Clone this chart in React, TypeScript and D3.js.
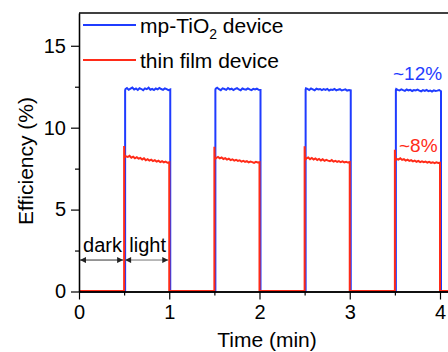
import { useEffect, useRef } from 'react'
import * as d3 from 'd3'

// Light periods start at these times (min) and last half a minute each.
const LIGHT_ON = [0.5, 1.5, 2.5, 3.5]
const LIGHT_LEN = 0.5

// Sample offsets (min) inside every light period.
const OFFSETS = [0, 0.004, 0.02, 0.04, 0.06, 0.08, 0.1, 0.12, 0.14, 0.16, 0.18, 0.2, 0.22, 0.24, 0.26, 0.28, 0.3, 0.32, 0.34, 0.36, 0.38, 0.4, 0.42, 0.44, 0.46, 0.48, 0.5]

// mp-TiO2 device efficiency (%) per light period
const BLUE_P1 = [12.28, 12.36, 12.42, 12.31, 12.38, 12.45, 12.33, 12.39, 12.3, 12.41, 12.36, 12.29, 12.4, 12.35, 12.44, 12.32, 12.37, 12.3, 12.39, 12.34, 12.43, 12.36, 12.31, 12.4, 12.35, 12.29, 12.33]
const BLUE_P2 = [12.3, 12.38, 12.44, 12.35, 12.29, 12.4, 12.36, 12.31, 12.42, 12.34, 12.38, 12.3, 12.37, 12.41, 12.33, 12.28, 12.39, 12.35, 12.32, 12.4, 12.34, 12.29, 12.37, 12.33, 12.38, 12.31, 12.3]
const BLUE_P3 = [12.32, 12.4, 12.37, 12.3, 12.39, 12.34, 12.28, 12.38, 12.33, 12.36, 12.29, 12.35, 12.31, 12.37, 12.27, 12.33, 12.3, 12.36, 12.28, 12.32, 12.35, 12.27, 12.31, 12.34, 12.26, 12.3, 12.28]
const BLUE_P4 = [12.3, 12.36, 12.31, 12.27, 12.34, 12.29, 12.25, 12.33, 12.28, 12.31, 12.24, 12.3, 12.27, 12.32, 12.26, 12.22, 12.29, 12.25, 12.3, 12.23, 12.27, 12.21, 12.28, 12.24, 12.26, 12.3, 12.22]

// thin film device efficiency (%) per light period
const RED_P1 = [8.85, 8.15, 8.22, 8.18, 8.25, 8.14, 8.2, 8.1, 8.17, 8.08, 8.12, 8.03, 8.1, 7.98, 8.05, 7.96, 8.02, 7.93, 7.99, 7.9, 7.95, 7.87, 7.92, 7.85, 7.9, 7.83, 7.86]
const RED_P2 = [8.8, 8.05, 8.12, 8.18, 8.1, 8.15, 8.06, 8.11, 8.02, 8.08, 7.99, 8.04, 7.96, 8.01, 7.94, 7.98, 7.9, 7.95, 7.88, 7.93, 7.85, 7.9, 7.87, 7.82, 7.88, 7.84, 7.86]
const RED_P3 = [8.83, 8.0, 8.1, 8.15, 8.05, 8.12, 8.03, 8.09, 8.0, 8.06, 7.97, 8.04, 7.95, 8.01, 7.96, 7.92, 7.99, 7.9, 7.95, 7.88, 7.93, 7.86, 7.91, 7.85, 7.89, 7.84, 7.87]
const RED_P4 = [8.62, 7.98, 8.06, 8.02, 8.1, 8.0, 8.05, 7.96, 8.02, 7.94, 7.99, 7.91, 7.96, 7.89, 7.94, 7.87, 7.92, 7.86, 7.9, 7.84, 7.88, 7.82, 7.86, 7.8, 7.85, 7.81, 7.83]

const X_TICKS = [0, 1, 2, 3, 4]
const X_MINOR = [0.5, 1.5, 2.5, 3.5]
const Y_TICKS = [0, 5, 10, 15]
const Y_MINOR = [2.5, 7.5, 12.5]

const BLUE = '#1f3cff'
const RED = '#ff2b18'
const FONT = '"Liberation Sans", Arial, sans-serif'

const W = 448
const H = 352

type Pt = [number, number]

function buildSeries(periods: number[][]): Pt[] {
  const pts: Pt[] = [[0, 0]]
  LIGHT_ON.forEach((on, p) => {
    pts.push([on, 0])
    OFFSETS.forEach((o, i) => pts.push([on + o, periods[p][i]]))
    pts.push([on + LIGHT_LEN, 0])
  })
  pts.push([4.1, 0])
  return pts
}

export default function App() {
  const svgRef = useRef<SVGSVGElement>(null)

  useEffect(() => {
    if (!svgRef.current) return
    const svg = d3.select(svgRef.current)
    svg.selectAll('*').remove()

    const left = 79
    const top = 13
    const bottom = 291.5

    const x = d3.scaleLinear().domain([0, 4.1]).range([left, left + 4.1 * 90.25])
    const y = d3.scaleLinear().domain([0, 17]).range([bottom, top])

    const defs = svg.append('defs')
    defs
      .append('marker')
      .attr('id', 'arr')
      .attr('viewBox', '0 0 10 10')
      .attr('refX', 10)
      .attr('refY', 5)
      .attr('markerWidth', 8)
      .attr('markerHeight', 6)
      .attr('markerUnits', 'userSpaceOnUse')
      .attr('orient', 'auto-start-reverse')
      .append('path')
      .attr('d', 'M0,0 L10,5 L0,10 Z')
      .attr('fill', '#222')

    // ---- Series ----
    const line = d3
      .line<Pt>()
      .x((d) => x(d[0]))
      .y((d) => y(d[1]))

    const blue = buildSeries([BLUE_P1, BLUE_P2, BLUE_P3, BLUE_P4])
    const red = buildSeries([RED_P1, RED_P2, RED_P3, RED_P4])

    svg
      .append('path')
      .datum(blue)
      .attr('d', line)
      .attr('fill', 'none')
      .attr('stroke', BLUE)
      .attr('stroke-width', 2)
      .attr('transform', 'translate(1,0)')
    svg
      .append('path')
      .datum(red)
      .attr('d', line)
      .attr('fill', 'none')
      .attr('stroke', RED)
      .attr('stroke-width', 2)
      .attr('transform', 'translate(0,-0.5)')

    // ---- Axes ----
    const styleAxis = (g: d3.Selection<SVGGElement, unknown, null, undefined>) => {
      g.select('.domain').attr('stroke', '#000').attr('stroke-width', 1.3)
      g.selectAll('.tick line').attr('stroke', '#000').attr('stroke-width', 1.2)
      g.selectAll('.tick text')
        .attr('font-family', FONT)
        .attr('font-size', '20px')
        .attr('fill', '#000')
    }

    svg
      .append('g')
      .attr('transform', `translate(0,${bottom})`)
      .call(d3.axisBottom(x).tickValues(X_MINOR).tickSize(4).tickSizeOuter(0).tickFormat(() => ''))
      .call(styleAxis)
    svg
      .append('g')
      .attr('transform', `translate(0,${bottom})`)
      .call(
        d3.axisBottom(x).tickValues(X_TICKS).tickSize(8).tickSizeOuter(0).tickPadding(5).tickFormat(d3.format('d')),
      )
      .call(styleAxis)

    svg
      .append('g')
      .attr('transform', `translate(${left},0)`)
      .call(d3.axisLeft(y).tickValues(Y_MINOR).tickSize(4).tickSizeOuter(0).tickFormat(() => ''))
      .call(styleAxis)
    svg
      .append('g')
      .attr('transform', `translate(${left},0)`)
      .call(
        d3.axisLeft(y).tickValues(Y_TICKS).tickSize(8).tickSizeOuter(0).tickPadding(5).tickFormat(d3.format('d')),
      )
      .call(styleAxis)

    // top frame
    svg
      .append('line')
      .attr('x1', left)
      .attr('x2', W)
      .attr('y1', top)
      .attr('y2', top)
      .attr('stroke', '#000')
      .attr('stroke-width', 1.3)

    // ---- Axis labels ----
    svg
      .append('text')
      .attr('x', 267)
      .attr('y', 347)
      .attr('text-anchor', 'middle')
      .attr('font-family', FONT)
      .attr('font-size', '21px')
      .text('Time (min)')

    svg
      .append('text')
      .attr('transform', `translate(33,161) rotate(-90)`)
      .attr('text-anchor', 'middle')
      .attr('font-family', FONT)
      .attr('font-size', '21px')
      .text('Efficiency (%)')

    // ---- Legend ----
    const legend = [
      { color: BLUE, y: 25, main: 'mp-TiO', sub: '2', rest: ' device' },
      { color: RED, y: 60, main: 'thin film device', sub: '', rest: '' },
    ]
    legend.forEach((l) => {
      svg
        .append('line')
        .attr('x1', 83)
        .attr('x2', 136)
        .attr('y1', l.y)
        .attr('y2', l.y)
        .attr('stroke', l.color)
        .attr('stroke-width', 2)
      const t = svg
        .append('text')
        .attr('x', 140)
        .attr('y', l.y + 7.5)
        .attr('font-family', FONT)
        .attr('font-size', '21px')
        .attr('fill', '#000')
      t.append('tspan').text(l.main)
      if (l.sub) {
        t.append('tspan').attr('dy', 6).attr('font-size', '14px').text(l.sub)
        t.append('tspan').attr('dy', -6).text(l.rest)
      }
    })

    // ---- Value annotations ----
    svg
      .append('text')
      .attr('x', 393)
      .attr('y', 80)
      .attr('font-family', FONT)
      .attr('font-size', '19px')
      .attr('fill', BLUE)
      .text('~12%')
    svg
      .append('text')
      .attr('x', 399)
      .attr('y', 152)
      .attr('font-family', FONT)
      .attr('font-size', '19px')
      .attr('fill', RED)
      .text('~8%')

    // ---- dark / light arrows ----
    const arrowY = 1.92
    const spans = [
      { x0: 0, x1: 0.5, label: 'dark', stroke: '#333' },
      { x0: 0.5, x1: 1, label: 'light', stroke: '#777' },
    ]
    spans.forEach((s) => {
      svg
        .append('line')
        .attr('x1', x(s.x0) + 1)
        .attr('x2', x(s.x1) - 1)
        .attr('y1', y(arrowY))
        .attr('y2', y(arrowY))
        .attr('stroke', s.stroke)
        .attr('stroke-width', 1)
        .attr('marker-start', 'url(#arr)')
        .attr('marker-end', 'url(#arr)')
      svg
        .append('text')
        .attr('x', x((s.x0 + s.x1) / 2) + 1)
        .attr('y', y(arrowY) - 8)
        .attr('text-anchor', 'middle')
        .attr('font-family', FONT)
        .attr('font-size', '20px')
        .attr('fill', '#000')
        .text(s.label)
    })
  }, [])

  return (
    <svg
      ref={svgRef}
      width={W}
      height={H}
      style={{ position: 'absolute', left: 0, top: 0, background: '#fff' }}
    />
  )
}
